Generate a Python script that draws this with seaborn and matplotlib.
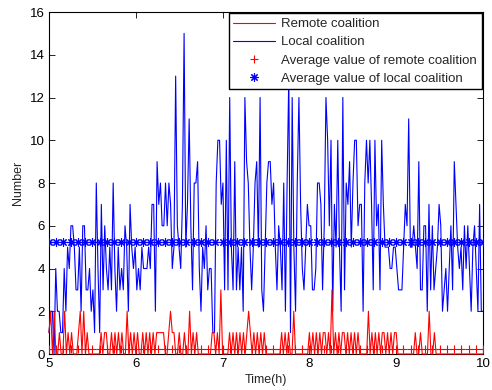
import numpy as np
import pandas as pd
import matplotlib
matplotlib.use("Agg")
import matplotlib.pyplot as plt
import seaborn as sns

# ---- data ----
local_coalition = [
    1, 2, 2, 0, 4, 2, 2, 1, 1, 4,
    2, 5, 4, 6, 6, 5, 3, 3, 5, 2,
    6, 6, 3, 3, 4, 2, 3, 1, 8, 4,
    1, 7, 3, 6, 4, 3, 5, 3, 8, 4,
    2, 5, 3, 4, 3, 6, 5, 2, 7, 5,
    4, 5, 3, 4, 3, 5, 4, 4, 4, 5,
    4, 7, 7, 2, 9, 7, 8, 6, 6, 8,
    6, 8, 7, 4, 5, 13, 6, 5, 4, 7,
    15, 5, 7, 11, 6, 3, 8, 8, 9,
    4, 2, 5, 4, 6, 3, 4, 4, 1, 1,
    8, 10, 10, 7, 8, 3, 10, 3, 12, 5,
    3, 9, 3, 5, 3, 5, 2, 12, 9, 8,
    5, 3, 5, 8, 9, 5, 12, 3, 2, 5,
    8, 9, 9, 7, 8, 5, 3, 6, 5, 3,
    8, 2, 8, 13, 1, 12, 5, 2, 8, 12,
    7, 4, 3, 5, 7, 6, 6, 3, 3, 4,
    8, 8, 7, 3, 6, 12, 10, 6, 10, 2,
    7, 5,
    10, 5, 2, 12, 3, 8, 7, 9, 5, 8,
    10, 10, 6, 7, 7, 2, 8, 10, 8, 10,
    7, 3, 10, 6, 7, 3, 10, 7, 5, 5,
    5, 4, 4, 5, 5, 4, 3, 3, 3, 5,
    7, 6, 11, 5, 5, 6, 5, 4, 9, 3,
    3, 6, 6, 2, 7, 3, 6, 3, 4, 5,
    7, 6, 2, 3, 4, 2, 4, 6, 3, 9,
    7, 5, 4, 5, 3, 6, 4, 6, 4, 2,
    5, 6, 4, 2, 7, 2, 2,
]

remote_coalition = [
    1, 2, 0, 2, 0,   0, 1, 0, 0, 2,   0, 1, 0, 1, 0,   0, 0, 1, 2, 0,
    2, 0, 1, 0, 0,   0, 0, 0, 0, 0,   1, 0, 1, 1, 0,   0, 1, 0, 1, 0,
    1, 0, 1, 0, 0,   2, 0, 1, 0, 1,   0, 1, 0, 0, 1,   0, 1, 0, 1, 0,
    1, 0, 1, 1, 1,   1, 1, 0, 0, 1,   2, 1, 1, 0, 0,   1, 0, 0, 1, 0,
    0, 2, 0, 1, 0,   1, 0, 0, 0, 0,   0, 0, 0, 0, 1,   1, 0, 1, 0, 3,
    0, 0, 0, 0, 1,   0, 1, 0, 1, 0,   1, 0, 1, 0, 1,   2, 1, 0, 1, 0,
    1, 0, 1, 0, 1,   0, 0, 0, 0, 0,   0, 0, 0, 0, 1,   0, 1, 0, 1, 0,
    0, 2, 0, 0, 0,   0, 0, 0, 0, 0,   1, 0, 1, 0, 1,   0, 1, 0, 1, 1,
    0, 1, 0, 3, 0,   1, 0, 1, 0, 1,   1, 0, 1, 0, 1,   0, 1, 0, 1, 0,
    0, 0, 0, 0, 2,   0, 1, 0, 1, 0,   1, 0, 1, 1, 0,   1, 0, 1, 0, 1,
    1, 0, 0, 0, 0,   0, 0, 0, 0, 0,   0, 1, 0, 0, 1,   0, 0, 0, 0, 2,
    0, 0, 1, 0, 0,   0, 0, 0, 0, 0,   0, 0, 0, 0, 0,   0, 0, 0, 0, 0,
    0, 0, 0, 0, 0,   0, 0, 0, 0, 0,
    0,
]

remote_average = 0.25
local_average = 5.25
n_average_marks = 61

labels = ["Remote coalition", "Local coalition",
          "Average value of remote coalition", "Average value of local coalition"]
x_ticks = [5, 6, 7, 8, 9, 10]
y_ticks = [0, 2, 4, 6, 8, 10, 12, 14, 16]

# ---- build tables ----
t_local = np.linspace(5, 10, len(local_coalition))
t_remote = np.linspace(5, 10, len(remote_coalition))
t_avg = np.linspace(5, 10, n_average_marks)
df_local = pd.DataFrame({"t": t_local, "v": local_coalition})
df_remote = pd.DataFrame({"t": t_remote, "v": remote_coalition})
df_avg = pd.DataFrame({"t": t_avg,
                       "r": [remote_average] * n_average_marks,
                       "l": [local_average] * n_average_marks})

sns.set_theme(style="ticks")
plt.rcParams["font.family"] = ["Liberation Sans", "DejaVu Sans"]

fig = plt.figure(figsize=(4.92, 3.90), dpi=100)
ax = fig.add_axes([0.0996, 0.0923, 0.8821, 0.8769])

sns.lineplot(data=df_remote, x="t", y="v", ax=ax, color="red", lw=0.8,
             label=labels[0], clip_on=False, zorder=3)
sns.lineplot(data=df_local, x="t", y="v", ax=ax, color="blue", lw=0.8,
             label=labels[1], clip_on=False, zorder=2)
sns.lineplot(data=df_avg, x="t", y="r", ax=ax, color="red", linestyle="",
             marker="+", markersize=6, markeredgecolor="red",
             markeredgewidth=0.8, label=labels[2], zorder=4)
sns.lineplot(data=df_avg, x="t", y="l", ax=ax, color="blue", linestyle="",
             marker=(8, 2, 0), markersize=6, markeredgecolor="blue",
             markeredgewidth=0.8, label=labels[3], zorder=4)

ax.set_xlim(5, 10)
ax.set_ylim(0, 16)
ax.set_xticks(x_ticks)
ax.set_yticks(y_ticks)
ax.set_xlabel("Time(h)", fontsize=9, labelpad=3)
ax.set_ylabel("Number", fontsize=9, labelpad=4)
ax.tick_params(direction="in", length=4, width=0.6, top=True, right=True,
               labelsize=9.5, pad=3, colors="black")
for s in ax.spines.values():
    s.set_linewidth(0.8)
    s.set_color("black")

leg = ax.legend(loc="upper right", fontsize=9.5, frameon=True, fancybox=False,
                framealpha=1, edgecolor="black", borderaxespad=0.1,
                handlelength=3.2, handletextpad=0.45, labelspacing=0.45,
                borderpad=0.35)
leg.get_frame().set_linewidth(1.0)

fig.savefig("out.png", dpi=100, facecolor="white")
